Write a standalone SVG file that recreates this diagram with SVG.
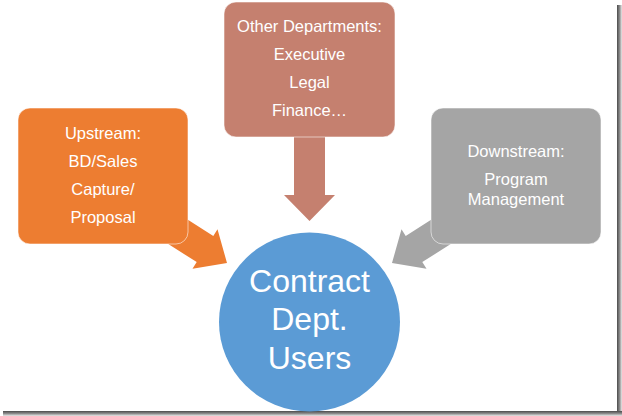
<svg xmlns="http://www.w3.org/2000/svg" width="622" height="416" viewBox="0 0 622 416">
<defs>
<style>
.box{stroke:#ffffff;stroke-opacity:0.55;stroke-width:1}
.t{font-family:"Liberation Sans",Arial,sans-serif;font-size:16.5px;fill:#ffffff;text-anchor:middle}
.big{font-family:"Liberation Sans",Arial,sans-serif;font-size:32px;fill:#ffffff;text-anchor:middle}
</style>
<linearGradient id="gr" x1="0" y1="0" x2="1" y2="0">
<stop offset="0" stop-color="#4a4a4a"/><stop offset="0.5" stop-color="#8a8a8a"/><stop offset="1" stop-color="#e8e8e8"/>
</linearGradient>
<linearGradient id="gb" x1="0" y1="0" x2="0" y2="1">
<stop offset="0" stop-color="#4a4a4a"/><stop offset="0.5" stop-color="#8a8a8a"/><stop offset="1" stop-color="#e8e8e8"/>
</linearGradient>
</defs>
<rect width="622" height="416" fill="#ffffff"/>
<rect x="617" y="5" width="5" height="411" fill="url(#gr)"/>
<rect x="3" y="411" width="619" height="5" fill="url(#gb)"/>
<g id="connectors">
<polygon fill="#C5806F" points="294,130 325,130 325,195 335,195 309.5,221 284,195 294,195"/>
<polygon fill="#ED7D31" points="162.5,203.6 213.3,235.9 217.5,229.3 227,263 192.5,268.7 196.7,262.1 145.9,229.8"/>
<polygon fill="#A5A5A5" points="456.5,203.6 405.7,235.9 401.5,229.3 392,263 426.5,268.7 422.3,262.1 473.1,229.8"/>
</g>
<g id="other-departments">
<rect class="box" x="224" y="2" width="171" height="135" rx="12" fill="#C5806F"/>
<text class="t" x="309.5" y="32">Other Departments:</text>
<text class="t" x="309.5" y="60">Executive</text>
<text class="t" x="309.5" y="88">Legal</text>
<text class="t" x="309.5" y="116">Finance…</text>
</g>
<g id="upstream">
<rect class="box" x="18" y="108" width="170" height="136" rx="12" fill="#ED7D31"/>
<text class="t" x="103" y="139">Upstream:</text>
<text class="t" x="103" y="167">BD/Sales</text>
<text class="t" x="103" y="195">Capture/</text>
<text class="t" x="103" y="223">Proposal</text>
</g>
<g id="downstream">
<rect class="box" x="431" y="108" width="170" height="136" rx="12" fill="#A5A5A5"/>
<text class="t" x="516" y="157">Downstream:</text>
<text class="t" x="516" y="185">Program</text>
<text class="t" x="516" y="205">Management</text>
</g>
<g id="contract-dept-users">
<ellipse cx="309.5" cy="322" rx="90.5" ry="89.5" fill="#5B9BD5"/>
<text class="big" x="309.5" y="292">Contract</text>
<text class="big" x="309.5" y="330">Dept.</text>
<text class="big" x="309.5" y="369">Users</text>
</g>
</svg>
